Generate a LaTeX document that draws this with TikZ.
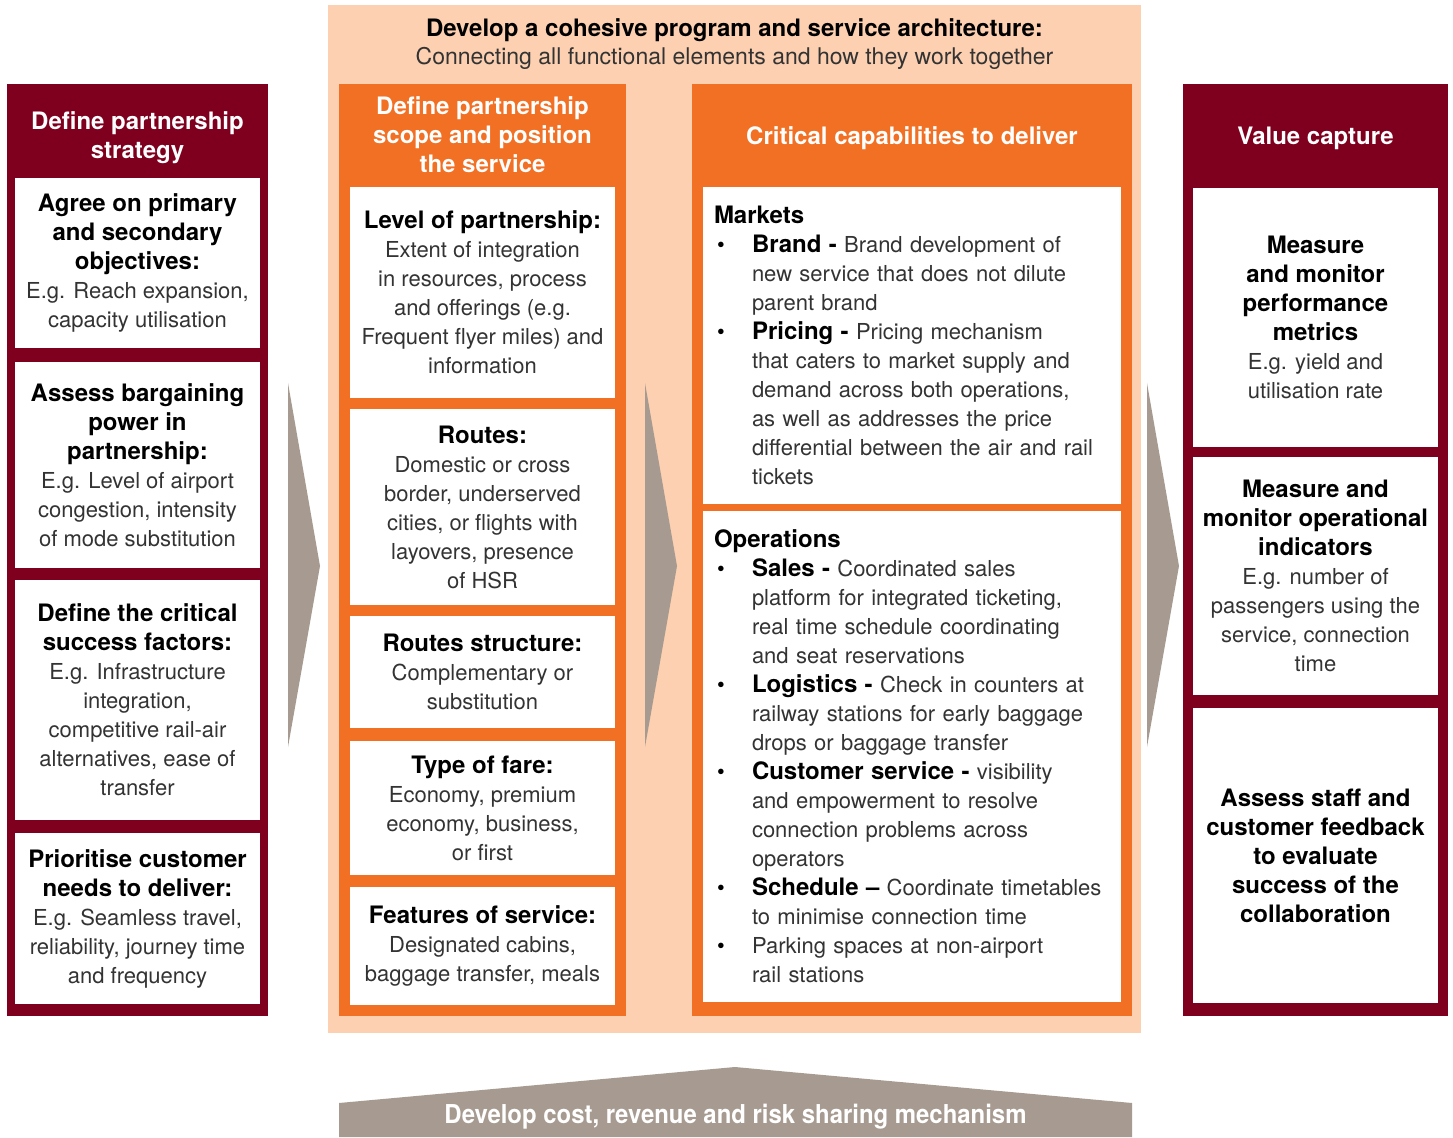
\documentclass[tikz,border=0pt]{standalone}
\usepackage{fontspec}
\setmainfont{TeX Gyre Heros}
\usetikzlibrary{positioning}
\definecolor{wine}{RGB}{127,0,30}
\definecolor{tangerine}{RGB}{242,112,35}
\definecolor{peach}{RGB}{252,208,176}
\definecolor{taupe}{RGB}{167,155,145}
\newcommand\hd{\color{black}\bfseries\fontsize{12}{14.5}\selectfont}
\newcommand\bul{\makebox[19pt][l]{\hspace*{1.5pt}\textcolor{black}{\textbullet}}}
\newcommand\ind{\hspace*{19pt}}

\begin{document}
\begin{tikzpicture}[
  x=0.5pt, y=-0.5pt,
  panel/.style={
    anchor=north west,
    inner sep=0pt,
    outer sep=0pt,
    draw=none
  },
  wh/.style 2 args={
    minimum width=#1*0.5pt,
    minimum height=#2*0.5pt
  },
  cell/.style={
    panel,
    fill=white,
    align=center,
    text=black!80,
    font=\fontsize{11}{14.5}\selectfont
  },
  header/.style={
    font=\bfseries\fontsize{12}{14.5}\selectfont,
    text=white,
    align=center
  },
  chevron/.style={
    fill=taupe,
    draw=none
  }
]
\useasboundingbox (0,0) rectangle (1453,1137);

% Background of the middle block
\node[panel, fill=peach, wh={813}{1028}] (arch) at (328,5) {};
\node[font=\bfseries\fontsize{12}{14}\selectfont] (archtitle) at (734.5,30)
  {Develop a cohesive program and service architecture:};
\node[font=\fontsize{11.5}{14}\selectfont, text=black!80] (archsub) at (734.5,58)
  {Connecting all functional elements and how they work together};

% Column 1 : partnership strategy
\node[panel, fill=wine, wh={261}{932}] (lcol) at (7,84) {};
\node[header] (lhead) at (137.5,138) {Define partnership\\strategy};
\node[cell, wh={245}{170}] (lb1) at (15,178)
  {\hd Agree on primary\\\hd and secondary\\\hd objectives:\\
   E.g. Reach expansion,\\capacity utilisation};
\node[cell, wh={245}{206}] (lb2) at (15,362)
  {\hd Assess bargaining\\\hd power in\\\hd partnership:\\
   E.g. Level of airport\\congestion, intensity\\of mode substitution};
\node[cell, wh={245}{240}] (lb3) at (15,580)
  {\hd Define the critical\\\hd success factors:\\
   E.g. Infrastructure\\integration,\\competitive rail-air\\alternatives, ease of\\transfer};
\node[cell, wh={245}{171}] (lb4) at (15,833)
  {\hd Prioritise customer\\\hd needs to deliver:\\
   E.g. Seamless travel,\\reliability, journey time\\and frequency};

% Column 2 : scope and position
\node[panel, fill=tangerine, wh={287}{932}] (mcol) at (339,84) {};
\node[header] (mhead) at (482.5,135) {Define partnership\\scope and position\\the service};
\node[cell, wh={265}{211}] (mb1) at (350,187)
  {\hd Level of partnership:\\
   Extent of integration\\in resources, process\\and offerings (e.g.\\Frequent flyer miles) and\\information};
\node[cell, wh={265}{196}] (mb2) at (350,409)
  {\hd Routes:\\
   Domestic or cross\\border, underserved\\cities, or flights with\\layovers, presence\\of HSR};
\node[cell, wh={265}{112}] (mb3) at (350,616)
  {\hd Routes structure:\\
   Complementary or\\substitution};
\node[cell, wh={265}{134}] (mb4) at (350,741)
  {\hd Type of fare:\\
   Economy, premium\\economy, business,\\or first};
\node[cell, wh={265}{118}] (mb5) at (350,887)
  {\hd Features of service:\\
   Designated cabins,\\baggage transfer, meals};

% Column 3 : critical capabilities
\node[panel, fill=tangerine, wh={440}{932}] (rcol) at (692,84) {};
\node[header] (rhead) at (912,138) {Critical capabilities to deliver};
\node[cell, wh={418}{317}, align=left, text width=198pt, inner xsep=5.5pt] (rb1) at (703,187)
  {{\hd Markets}\\
   \bul{\hd Brand -} Brand development of\\
   \ind new service that does not dilute\\
   \ind parent brand\\
   \bul{\hd Pricing -} Pricing mechanism\\
   \ind that caters to market supply and\\
   \ind demand across both operations,\\
   \ind as well as addresses the price\\
   \ind differential between the air and rail\\
   \ind tickets};
\node[cell, wh={418}{491}, align=left, text width=198pt, inner xsep=5.5pt] (rb2) at (703,511)
  {{\hd Operations}\\
   \bul{\hd Sales -} Coordinated sales\\
   \ind platform for integrated ticketing,\\
   \ind real time schedule coordinating\\
   \ind and seat reservations\\
   \bul{\hd Logistics -} Check in counters at\\
   \ind railway stations for early baggage\\
   \ind drops or baggage transfer\\
   \bul{\hd Customer service -} visibility\\
   \ind and empowerment to resolve\\
   \ind connection problems across\\
   \ind operators\\
   \bul{\hd Schedule --} Coordinate timetables\\
   \ind to minimise connection time\\
   \bul Parking spaces at non-airport\\
   \ind rail stations};

% Column 4 : value capture
\node[panel, fill=wine, wh={265}{932}] (vcol) at (1183,84) {};
\node[header] (vhead) at (1315.5,138) {Value capture};
\node[cell, wh={245}{259}] (vb1) at (1193,188)
  {\hd Measure\\\hd and monitor\\\hd performance\\\hd metrics\\
   E.g. yield and\\utilisation rate};
\node[cell, wh={245}{238}] (vb2) at (1193,457)
  {\hd Measure and\\\hd monitor operational\\\hd indicators\\
   E.g. number of\\passengers using the\\service, connection\\time};
\node[cell, wh={245}{295}] (vb3) at (1193,708)
  {\hd Assess staff and\\\hd customer feedback\\\hd to evaluate\\\hd success of the\\\hd collaboration};

% Chevrons between the columns
\foreach \ax in {288,645,1147}
  \fill[chevron] (\ax,383) -- (\ax+32,566) -- (\ax,747) -- cycle;

% Base : sharing mechanism
\fill[chevron] (339,1137) -- (339,1103) -- (735,1067) -- (1132,1103) -- (1132,1137) -- cycle;
\node[font=\bfseries\fontsize{13}{14}\selectfont, text=white] (base) at (735.5,1117)
  {\scalebox{0.92}[1]{Develop cost, revenue and risk sharing mechanism}};

\end{tikzpicture}
\end{document}
